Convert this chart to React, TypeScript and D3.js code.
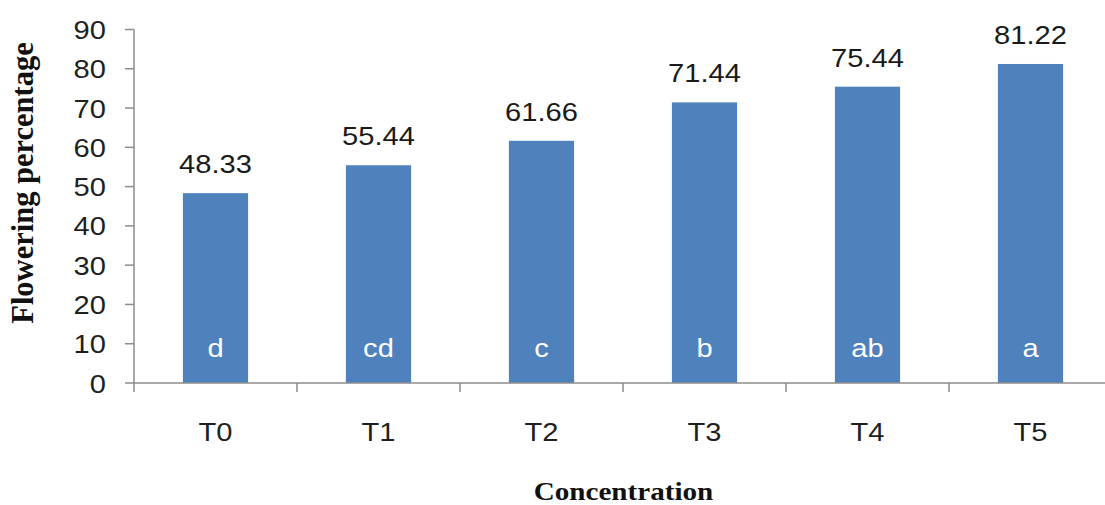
import { useEffect, useRef } from 'react';
import * as d3 from 'd3';

const categories = ['T0', 'T1', 'T2', 'T3', 'T4', 'T5'];
const values = [48.33, 55.44, 61.66, 71.44, 75.44, 81.22];
const letters = ['d', 'cd', 'c', 'b', 'ab', 'a'];
const yTicks = [0, 10, 20, 30, 40, 50, 60, 70, 80, 90];

const W = 1105;
const H = 505;
const SANS = '"Liberation Sans", Arial, sans-serif';
const SERIF = '"Liberation Serif", "Times New Roman", serif';
const AXIS = '#8c8c8c';
const BAR = '#4f81bd';
const SX = 1.12; // source image is a little wide

export default function App() {
  const svgRef = useRef<SVGSVGElement>(null);

  useEffect(() => {
    if (!svgRef.current) return;
    const svg = d3.select(svgRef.current);
    svg.selectAll('*').remove();

    const x = d3.scaleBand<string>().domain(categories).range([134, 1112]).paddingInner(0.6).paddingOuter(0.3);
    const step = x.step();
    const y = d3.scaleLinear([0, 90], [383, 29.5]);
    const x0 = 134;

    svg.append('rect').attr('width', W).attr('height', H).attr('fill', '#fff');

    // bars
    svg.append('g')
      .selectAll('rect')
      .data(values)
      .join('rect')
      .attr('x', (d, i) => x(categories[i])!)
      .attr('y', d => y(d))
      .attr('width', x.bandwidth())
      .attr('height', d => y(0) - y(d))
      .attr('fill', BAR);

    // y axis
    svg.append('line')
      .attr('x1', x0).attr('x2', x0)
      .attr('y1', y(90)).attr('y2', y(0))
      .attr('stroke', AXIS).attr('stroke-width', 1.5);
    yTicks.forEach(t => {
      svg.append('line')
        .attr('x1', x0 - 9).attr('x2', x0)
        .attr('y1', y(t)).attr('y2', y(t))
        .attr('stroke', AXIS).attr('stroke-width', 1.5);
      svg.append('text')
        .attr('transform', `translate(106,${y(t) + 9.5}) scale(${SX},1)`)
        .attr('text-anchor', 'end')
        .attr('font-family', SANS)
        .attr('font-size', 26)
        .attr('fill', '#1f1f1f')
        .text(t);
    });

    // x axis
    svg.append('line')
      .attr('x1', x0).attr('x2', W)
      .attr('y1', y(0)).attr('y2', y(0))
      .attr('stroke', AXIS).attr('stroke-width', 1.5);
    d3.range(categories.length + 1).forEach(i => {
      const tx = x0 + i * step;
      svg.append('line')
        .attr('x1', tx).attr('x2', tx)
        .attr('y1', y(0)).attr('y2', y(0) + 9)
        .attr('stroke', AXIS).attr('stroke-width', 1.5);
    });

    categories.forEach((c, i) => {
      const cx = x(c)! + x.bandwidth() / 2;
      svg.append('text')
        .attr('transform', `translate(${cx},441) scale(${SX},1)`)
        .attr('text-anchor', 'middle')
        .attr('font-family', SANS)
        .attr('font-size', 26)
        .attr('fill', '#1f1f1f')
        .text(c);
      svg.append('text')
        .attr('transform', `translate(${cx},${y(values[i]) - 20}) scale(${SX},1)`)
        .attr('text-anchor', 'middle')
        .attr('font-family', SANS)
        .attr('font-size', 26)
        .attr('fill', '#1a1a1a')
        .text(values[i].toFixed(2));
      svg.append('text')
        .attr('transform', `translate(${cx},357) scale(${SX},1)`)
        .attr('text-anchor', 'middle')
        .attr('font-family', SANS)
        .attr('font-size', 26)
        .attr('fill', '#ffffff')
        .text(letters[i]);
    });

    // axis titles
    svg.append('text')
      .attr('transform', `translate(${(532 + 715) / 2},500) scale(${SX},1)`)
      .attr('text-anchor', 'middle')
      .attr('font-family', SERIF)
      .attr('font-weight', 'bold')
      .attr('font-size', 26)
      .attr('fill', '#111')
      .text('Concentration');
    svg.append('text')
      .attr('transform', `translate(33,183) rotate(-90)`)
      .attr('text-anchor', 'middle')
      .attr('font-family', SERIF)
      .attr('font-weight', 'bold')
      .attr('font-size', 30.5)
      .attr('fill', '#111')
      .text('Flowering percentage');
  }, []);

  return (
    <div style={{ position: 'fixed', left: 0, top: 0, width: W, height: H, overflow: 'hidden' }}>
      <svg ref={svgRef} width={W} height={H} style={{ display: 'block' }} />
    </div>
  );
}
